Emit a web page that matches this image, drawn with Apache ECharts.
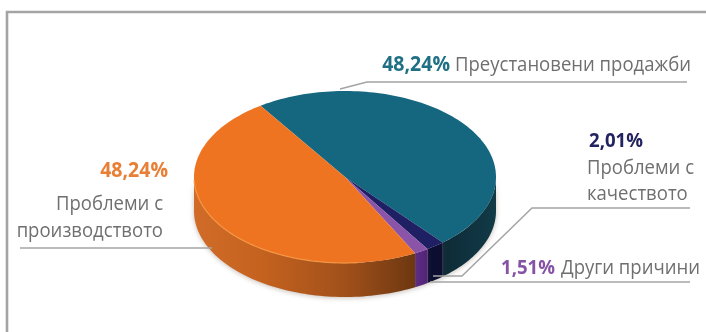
<!DOCTYPE html>
<html>
<head>
<meta charset="utf-8">
<style>html,body{margin:0;padding:0;background:#fff}#chart{width:706px;height:332px}</style>
<script src="https://cdn.jsdelivr.net/npm/echarts@6/dist/echarts.min.js"></script>
</head>
<body>
<div id="chart"></div>
<script>
// Reasons for suspended sales, in percent
const reasons = ['Преустановени продажби', 'Проблеми с качеството', 'Други причини', 'Проблеми с производството'];
const shares = [48.24, 2.01, 1.51, 48.24];
const shareLabels = ['48,24%', '2,01%', '1,51%', '48,24%'];
const topColors = ['#15677F', '#1F1F63', '#8A55A8', '#EE7421'];

// Tilted disc geometry
const CX = 345, CY = 177, RX = 151, RY = 86, DEPTH = 34;
const START_DEG = 236;

const toRad = d => d * Math.PI / 180;
const rimPoint = (deg, dy) => [CX + RX * Math.cos(toRad(deg)), CY + dy + RY * Math.sin(toRad(deg))];

function arcPoints(a, b, dy) {
  const out = [];
  const n = Math.max(2, Math.ceil(Math.abs(b - a) / 1.5));
  for (let i = 0; i <= n; i++) out.push(rimPoint(a + (b - a) * i / n, dy));
  return out;
}

function grad(x1, x2, stops) {
  return { type: 'linear', x: x1, y: 0, x2: x2, y2: 0, global: true,
    colorStops: stops.map(s => ({ offset: s[0], color: s[1] })) };
}

const wallFills = [
  grad(440, 496, [[0, '#0D2A36'], [1, '#123A47']]),
  grad(428, 444, [[0, '#0C0D33'], [1, '#0C0F30']]),
  grad(415, 430, [[0, '#5F2C86'], [1, '#4E2272']]),
  grad(194, 418, [[0, '#D06C28'], [0.3, '#C5621F'], [0.68, '#A0501A'], [1, '#6B3610']])
];

function sliceAngles(i) {
  const total = shares.reduce((s, v) => s + v, 0);
  const before = shares.slice(0, i).reduce((s, v) => s + v, 0);
  const a = START_DEG + before / total * 360;
  return [a, a + shares[i] / total * 360];
}

// Front wall of a slice: only the part of the rim that faces the viewer
function wallOf(i) {
  const [a, b] = sliceAngles(i);
  const parts = [];
  for (const k of [0, 360, 720]) {
    const lo = Math.max(a, k), hi = Math.min(b, k + 180);
    if (hi > lo) parts.push([lo, hi]);
  }
  return parts.map(([lo, hi]) => ({
    type: 'polygon', z2: 1,
    shape: { points: arcPoints(lo, hi, 0).concat(arcPoints(hi, lo, DEPTH)) },
    style: { fill: wallFills[i], shadowBlur: 5, shadowColor: 'rgba(90,70,50,0.35)', shadowOffsetY: 1 }
  }));
}

function renderSlice(params, api) {
  const i = params.dataIndex;
  const [a, b] = sliceAngles(i);
  const top = {
    type: 'polygon', z2: 2,
    shape: { points: [[CX, CY]].concat(arcPoints(a, b, 0)) },
    style: { fill: topColors[i] }
  };
  const children = wallOf(i).concat([top]);
  // Lit front edge along the biggest front-facing slice
  if (i === 3) {
    children.push({
      type: 'polyline', z2: 3,
      shape: { points: arcPoints(85, 178, 0) },
      style: { stroke: '#F79A45', lineWidth: 1.3, fill: null, opacity: 0.8 }
    });
  }
  return { type: 'group', children };
}

const LINE = '#A4A4A4', TEXT = '#6F6F6F';
const FONT = '"Open Sans", sans-serif';
const SHARE_SQUEEZE = 0.93, TEXT_SQUEEZE = 0.95;

function polyline(points, width) {
  return { type: 'polyline', z: 5, shape: { points }, style: { stroke: LINE, lineWidth: width || 1.5, fill: null } };
}
function label(x, y, text, color, weight, size, align, squeeze) {
  return { type: 'text', z: 6, x, y, scaleX: squeeze,
    style: { text, fill: color, font: `${weight} ${size}px ${FONT}`, textAlign: align, textVerticalAlign: 'middle' } };
}
const share = (x, y, i, color, size, align) => label(x, y, shareLabels[i], color, 'bold', size, align, SHARE_SQUEEZE);
const note = (x, y, text, align) => label(x, y, text, TEXT, 'normal', 19.5, align, TEXT_SQUEEZE);
const splitReason = s => { const p = s.split(' '); return [p.slice(0, -1).join(' '), p[p.length - 1]]; };

const graphics = [
  polyline([[7, 332], [7, 12], [706, 12]], 2.6),
  polyline([[340, 89], [367, 82], [687, 82]]),
  polyline([[433, 276], [462, 276], [532, 208], [690, 208]]),
  polyline([[430, 282], [690, 282]]),
  polyline([[20, 248], [212, 248]]),

  share(450, 65, 0, '#1F7084', 21, 'right'),
  note(455, 65, reasons[0], 'left'),

  share(589, 141, 1, '#23235F', 20, 'left'),
  note(587, 168, splitReason(reasons[1])[0], 'left'),
  note(587, 194, splitReason(reasons[1])[1], 'left'),

  share(555, 268, 2, '#8652A6', 20, 'right'),
  note(561, 268, reasons[2], 'left'),

  share(168, 171, 3, '#E97F35', 21, 'right'),
  note(163, 204, splitReason(reasons[3])[0], 'right'),
  note(163, 231, splitReason(reasons[3])[1], 'right')
];

const chart = echarts.init(document.getElementById('chart'));
chart.setOption({
  animation: false,
  backgroundColor: '#FFFFFF',
  graphic: graphics,
  series: [{
    type: 'custom',
    coordinateSystem: 'none',
    renderItem: renderSlice,
    data: shares,
    silent: true
  }]
});
</script>
</body>
</html>
